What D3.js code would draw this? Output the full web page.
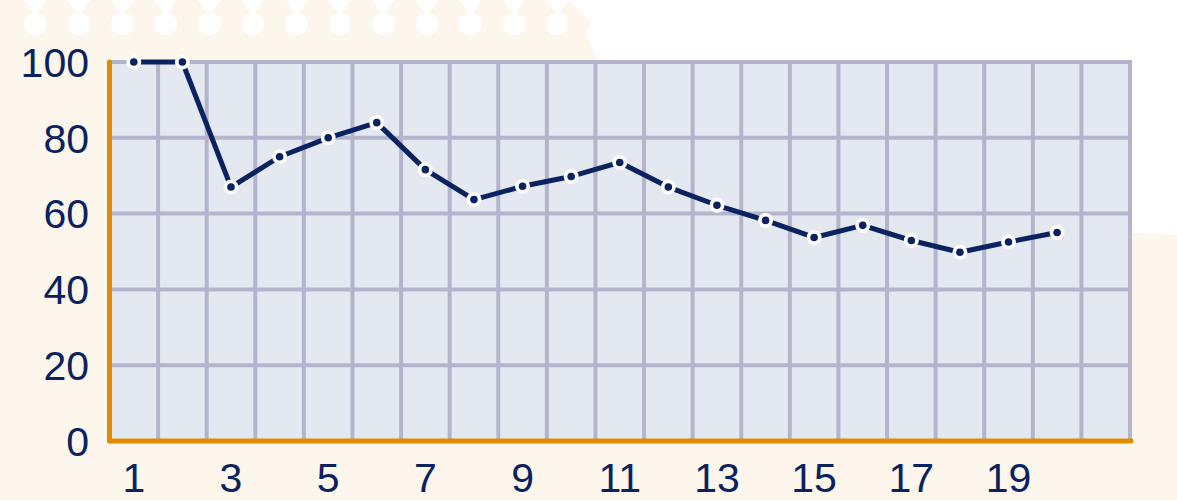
<!DOCTYPE html>
<html><head><meta charset="utf-8">
<script src="https://cdn.jsdelivr.net/npm/d3@7"></script>
<style>html,body{margin:0;padding:0;background:#fff;}svg{display:block;}</style>
</head><body>
<svg id="chart" width="1177" height="503"></svg>
<script>
const categories = [1,2,3,4,5,6,7,8,9,10,11,12,13,14,15,16,17,18,19,20];
const values = [100,100,67,75,80,84,71.6,63.7,67.2,69.8,73.5,67,62.2,58.2,53.7,56.9,52.9,49.8,52.5,55];
const xTickLabels = [1,3,5,7,9,11,13,15,17,19];
const yTickLabels = [0,20,40,60,80,100];

(function(){
const W = 1177, H = 503;
const svg = d3.select("#chart");
const cream = "#fdf6ec", navy = "#0b2260", orange = "#e08c00", grid = "#b4b5cd", plotBg = "#e4e8f0";

// background
svg.append("rect").attr("x",0).attr("y",0).attr("width",W).attr("height",500).attr("fill",cream);
svg.append("path").attr("fill","#fff")
  .attr("d","M569,0 L1177,0 L1177,235 L1132,233 L1132,70 L601,70 L598,60 L585,33 L592,23 Z");
const holes = d3.range(13).map(i => 35.4 + i*43.5);
svg.append("g").selectAll("path").data(holes).join("path")
  .attr("fill","#fff").attr("d", c => `M${c-11.5},0 L${c+11.5},0 L${c},15 Z`);
svg.append("g").selectAll("circle").data(holes).join("circle")
  .attr("fill","#fff").attr("cx", c => c).attr("cy",24).attr("r",11.3);

const pLeft = 109.5, pRight = 1130, pTop = 62, pBottom = 441;
const x = d3.scaleBand().domain(d3.range(1,22)).range([pLeft,pRight]).padding(0);
const y = d3.scaleLinear().domain([0,100]).range([pBottom,pTop]);

svg.append("rect").attr("x",pLeft).attr("y",pTop).attr("width",pRight-pLeft).attr("height",pBottom-pTop).attr("fill",plotBg);

// grid
const vLines = d3.range(2,22).map(d => x(d)).concat([pRight]);
svg.append("g").selectAll("line").data(vLines).join("line")
  .attr("x1",d=>d).attr("x2",d=>d).attr("y1",pTop).attr("y2",pBottom)
  .attr("stroke",grid).attr("stroke-width",4);
svg.append("g").selectAll("line").data([20,40,60,80,100]).join("line")
  .attr("x1",pLeft).attr("x2",pRight+2).attr("y1",d=>y(d)).attr("y2",d=>y(d))
  .attr("stroke",grid).attr("stroke-width",4);

// axes
svg.append("line").attr("x1",pLeft).attr("x2",pLeft).attr("y1",pTop).attr("y2",pBottom)
  .attr("stroke",orange).attr("stroke-width",5).attr("stroke-linecap","round");
svg.append("line").attr("x1",pLeft).attr("x2",pRight+1).attr("y1",pBottom).attr("y2",pBottom)
  .attr("stroke",orange).attr("stroke-width",5).attr("stroke-linecap","round");

// tick labels
const font = "'Liberation Sans', Arial, sans-serif";
svg.append("g").selectAll("text").data(yTickLabels).join("text")
  .attr("x",89).attr("y",d=>y(d)).attr("dy","0.36em").attr("text-anchor","end")
  .attr("font-family",font).attr("font-size",41).attr("fill",navy).text(d=>d);
svg.append("g").selectAll("text").data(xTickLabels).join("text")
  .attr("x",d=>x(d)+x.bandwidth()/2).attr("y",492).attr("text-anchor","middle")
  .attr("font-family",font).attr("font-size",41).attr("fill",navy).text(d=>d);

// line
const pts = categories.map((c,i)=>[x(c)+x.bandwidth()/2, y(values[i])]);
svg.append("path").attr("d", d3.line()(pts)).attr("fill","none")
  .attr("stroke",navy).attr("stroke-width",5).attr("stroke-linejoin","round");
svg.append("g").selectAll("circle").data(pts).join("circle")
  .attr("cx",d=>d[0]).attr("cy",d=>d[1]).attr("r",7.5).attr("fill","#fff");
svg.append("g").selectAll("circle").data(pts).join("circle")
  .attr("cx",d=>d[0]).attr("cy",d=>d[1]).attr("r",3.8).attr("fill",navy);
})();
</script>
</body></html>
